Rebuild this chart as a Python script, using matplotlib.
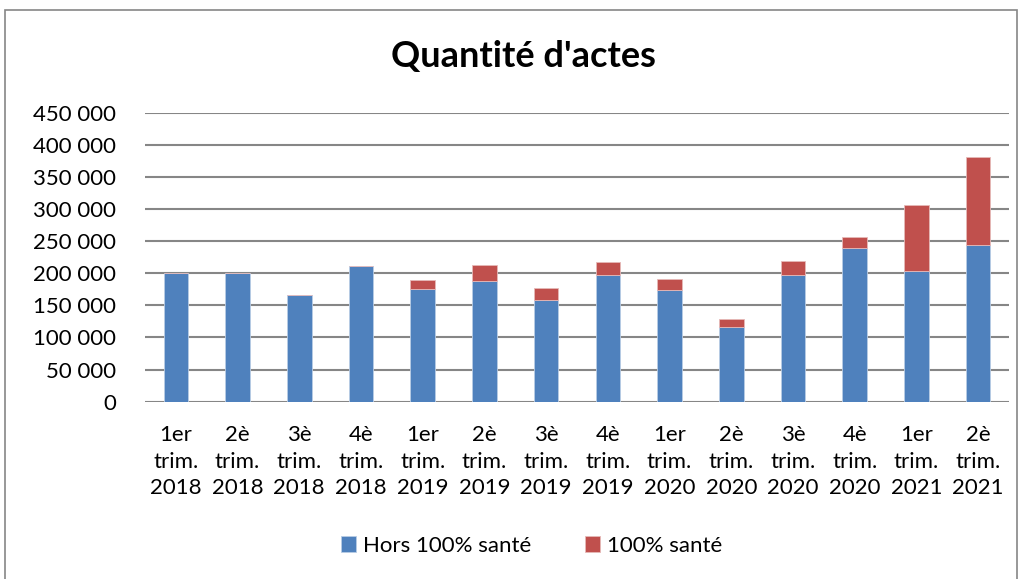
import matplotlib.pyplot as plt
import numpy as np
from matplotlib.patches import Rectangle

# quarter labels
categories = ["1er\ntrim.\n2018", "2è\ntrim.\n2018", "3è\ntrim.\n2018", "4è\ntrim.\n2018",
              "1er\ntrim.\n2019", "2è\ntrim.\n2019", "3è\ntrim.\n2019", "4è\ntrim.\n2019",
              "1er\ntrim.\n2020", "2è\ntrim.\n2020", "3è\ntrim.\n2020", "4è\ntrim.\n2020",
              "1er\ntrim.\n2021", "2è\ntrim.\n2021"]
hors_100 = [201000, 200000, 166700, 211800, 175000, 188500, 158400,
            196800, 173400, 115800, 197800, 238800, 203000, 244500]
sante_100 = [0, 0, 0, 0, 14000, 24400, 18100,
             20200, 18200, 12500, 20800, 18200, 103300, 136600]
yticks = [0, 50000, 100000, 150000, 200000, 250000, 300000, 350000, 400000, 450000]
ytick_labels = ["0", "50 000", "100 000", "150 000", "200 000", "250 000",
                "300 000", "350 000", "400 000", "450 000"]

blue = '#4F81BD'
red = '#C0504D'

plt.rcParams['font.family'] = ['Lato', 'DejaVu Sans']

fig = plt.figure(figsize=(10.22, 5.79), dpi=100)
ax = fig.add_axes([145/1022, 1 - 401.7/579, 864/1022, 289/579])

x = np.arange(len(categories))
ax.bar(x, hors_100, width=0.4, color=blue, edgecolor='#b9cde5', linewidth=0.6,
       label='Hors 100% santé', zorder=3)
ax.bar(x, sante_100, width=0.4, bottom=hors_100, color=red, edgecolor='#e6b9b8',
       linewidth=0.6, label='100% santé', zorder=3)

ax.set_xlim(-0.5, len(categories) - 0.5)
ax.set_ylim(0, 450000)
ax.set_yticks(yticks)
ax.set_yticklabels(ytick_labels, fontsize=16)
ax.set_xticks(x)
ax.set_xticklabels(categories, fontsize=16, linespacing=1.4)
ax.tick_params(length=0)
ax.tick_params(axis='y', pad=21)
ax.tick_params(axis='x', pad=17)
ax.grid(axis='y', color='#868686', linewidth=1.5, zorder=0)
for s in ax.spines.values():
    s.set_visible(False)

fig.text(0.512, 1 - 57/579, "Quantité d'actes", ha='center', va='center',
         fontsize=26, fontweight='bold')

fig.legend(loc='center', bbox_to_anchor=(0.52, 1 - 546/579), ncol=2, frameon=False,
           fontsize=16, handlelength=0.7, handleheight=0.7, handletextpad=0.3,
           columnspacing=2.4)

# outer chart border
fig.patches.append(Rectangle((5/1022, -0.05), 1012/1022, 1.05 - 10/579,
                             transform=fig.transFigure, fill=False,
                             edgecolor='#868686', linewidth=1.2))

fig.savefig('out.png', dpi=100)
